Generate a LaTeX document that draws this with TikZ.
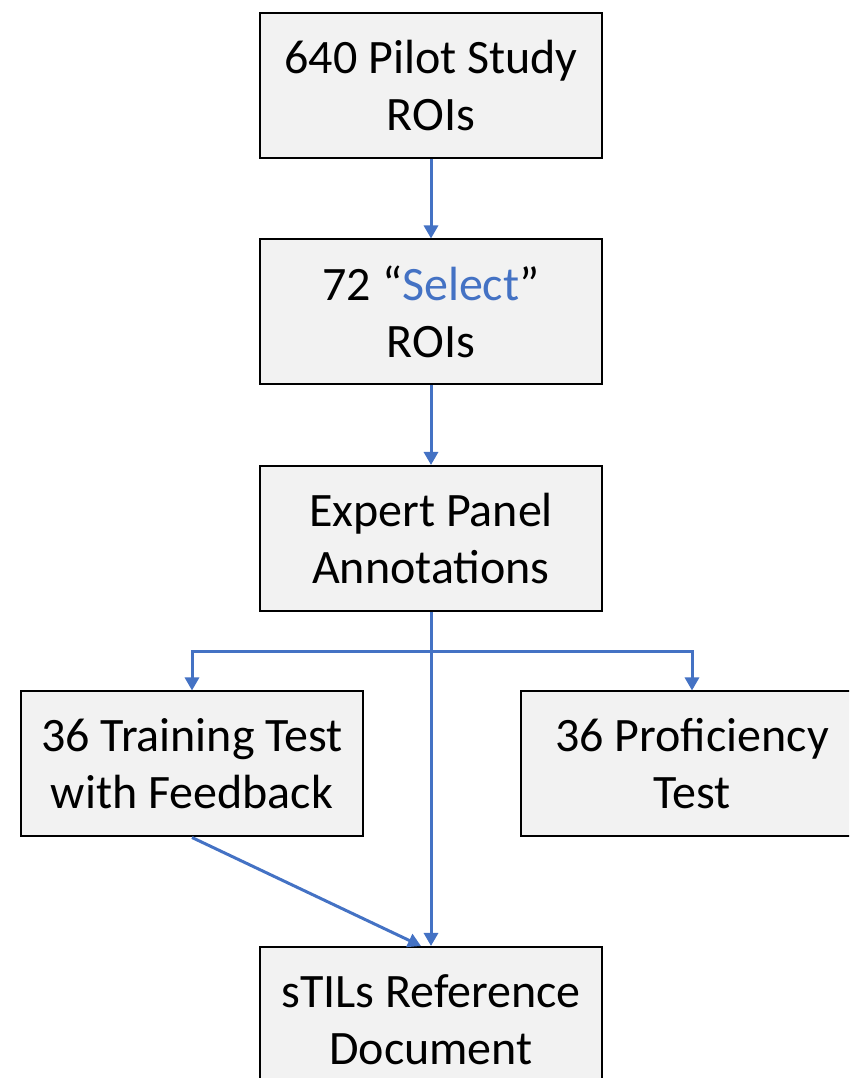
\documentclass[tikz,border=0pt]{standalone}
\usepackage{fontspec}
\setmainfont{Carlito}
\usetikzlibrary{arrows.meta}
\definecolor{lineblue}{RGB}{68,114,196}
\definecolor{boxfill}{RGB}{242,242,242}
\begin{document}
\begin{tikzpicture}[x=1pt,y=1pt,
  box/.style={draw=black,line width=2pt,fill=boxfill,minimum width=342pt,minimum height=145pt,align=center,font=\fontsize{48}{57}\selectfont,inner sep=0pt},
  conn/.style={draw=lineblue,line width=3pt,-{Triangle[length=13pt,width=14pt]}}]
\useasboundingbox (0,0) rectangle (849,1078);
\clip (0,0) rectangle (849,1078);
\node[box] (a) at (431,992.5) {640 Pilot Study\\ROIs};
\node[box] (b) at (431,766) {72 “{\color{lineblue}Select}”\\ROIs};
\node[box] (c) at (431,539.5) {Expert Panel\\Annotations};
\node[box] (d) at (192,314) {36 Training Test\\with Feedback};
\node[box] (e) at (692,314) {36 Proficiency\\Test};
\node[box] (f) at (431,58.5) {sTILs Reference\\Document};
\coordinate (br) at (431,426);
\draw[conn] (a.south) -- (b.north);
\draw[conn] (b.south) -- (c.north);
\draw[conn] (c.south) -- (f.north);
\draw[conn] (br) -| (d.north);
\draw[conn] (br) -| (e.north);
\draw[conn] (d.south) -- ([xshift=-10pt]f.north);
\end{tikzpicture}
\end{document}
